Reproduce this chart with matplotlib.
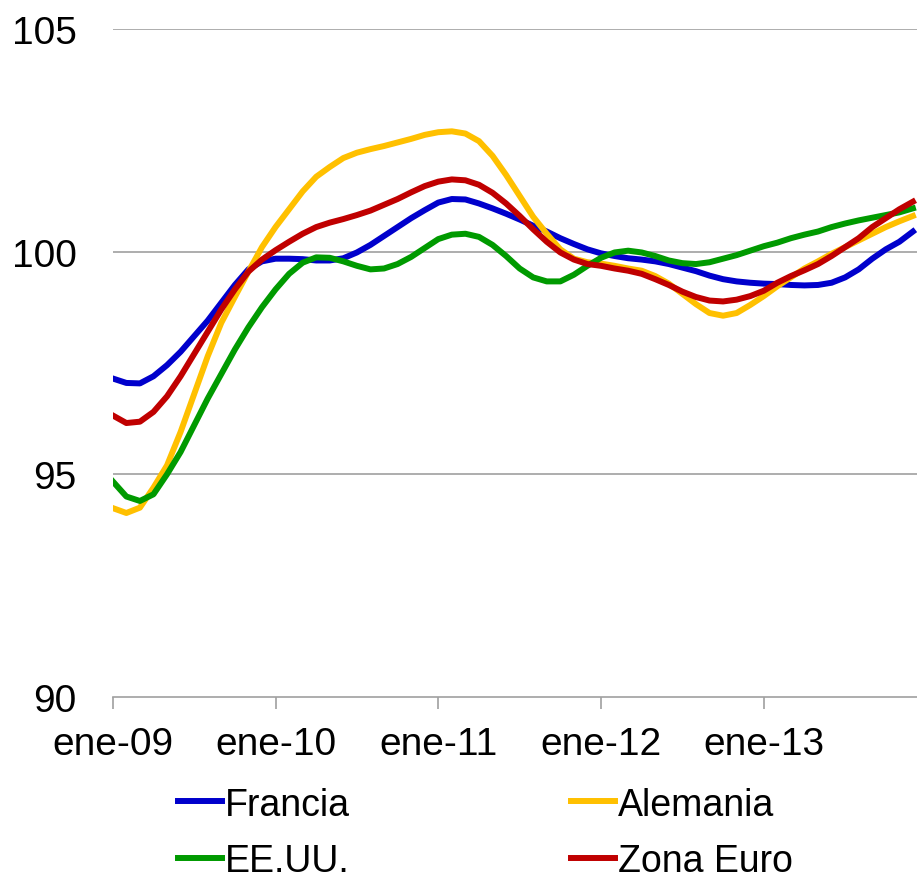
import numpy as np
import matplotlib
matplotlib.use("Agg")
import matplotlib.pyplot as plt

plt.rcParams['font.family'] = ['Liberation Sans', 'DejaVu Sans']

# monthly index, ene-09 .. dic-13
francia = [97.15, 97.05, 97.04, 97.2, 97.45, 97.75, 98.1, 98.45, 98.85, 99.25,
           99.6, 99.78, 99.84, 99.84, 99.83, 99.8, 99.8, 99.85, 99.98, 100.15,
           100.35, 100.55, 100.75, 100.93, 101.1, 101.18, 101.17, 101.08, 100.97, 100.85,
           100.72, 100.58, 100.45, 100.3, 100.17, 100.05, 99.96, 99.9, 99.85, 99.82,
           99.78, 99.72, 99.64, 99.56, 99.46, 99.38, 99.33, 99.3, 99.28, 99.27,
           99.25, 99.24, 99.25, 99.3, 99.42, 99.6, 99.84, 100.05, 100.22, 100.45]

alemania = [94.24, 94.13, 94.25, 94.7, 95.2, 95.95, 96.8, 97.65, 98.4, 98.98,
            99.55, 100.1, 100.55, 100.95, 101.35, 101.68, 101.9, 102.1, 102.22, 102.3,
            102.37, 102.45, 102.53, 102.62, 102.68, 102.7, 102.65, 102.48, 102.15, 101.72,
            101.25, 100.78, 100.4, 100.05, 99.84, 99.76, 99.73, 99.68, 99.62, 99.57,
            99.45, 99.28, 99.05, 98.82, 98.62, 98.56, 98.62, 98.8, 99.0, 99.22,
            99.42, 99.62, 99.78, 99.95, 100.1, 100.25, 100.4, 100.55, 100.68, 100.8]

eeuu = [94.84, 94.5, 94.4, 94.55, 95.0, 95.5, 96.1, 96.7, 97.25, 97.8,
        98.3, 98.75, 99.15, 99.5, 99.75, 99.87, 99.86, 99.78, 99.68, 99.6,
        99.62, 99.72, 99.88, 100.08, 100.28, 100.38, 100.4, 100.33, 100.15, 99.9,
        99.62, 99.42, 99.33, 99.33, 99.48, 99.68, 99.86, 99.98, 100.02, 99.98,
        99.9, 99.8, 99.74, 99.72, 99.76, 99.84, 99.92, 100.02, 100.12, 100.2,
        100.3, 100.38, 100.45, 100.55, 100.63, 100.7, 100.76, 100.82, 100.88, 100.97]

zona_euro = [96.32, 96.15, 96.18, 96.4, 96.75, 97.2, 97.7, 98.2, 98.7, 99.15,
             99.55, 99.82, 100.03, 100.22, 100.4, 100.55, 100.65, 100.73, 100.82, 100.92,
             101.05, 101.18, 101.33, 101.47, 101.57, 101.62, 101.6, 101.5, 101.32, 101.08,
             100.8, 100.5, 100.22, 99.98, 99.82, 99.72, 99.68, 99.62, 99.57, 99.5,
             99.38, 99.25, 99.1, 98.98, 98.9, 98.88, 98.92, 99.0, 99.12, 99.3,
             99.45, 99.58, 99.72, 99.9, 100.1, 100.3, 100.55, 100.75, 100.95, 101.12]

year_labels = ['ene-09', 'ene-10', 'ene-11', 'ene-12', 'ene-13']

months = np.arange(len(francia))

fig = plt.figure(figsize=(9.17, 8.79), dpi=100)
ax = fig.add_axes([0.123, 0.206, 0.877, 0.760])

lw = 4.3
l1, = ax.plot(months, francia, color='#0000CC', lw=lw, label='Francia')
l2, = ax.plot(months, alemania, color='#FFC000', lw=lw, label='Alemania')
l3, = ax.plot(months, eeuu, color='#009A00', lw=lw, label='EE.UU.')
l4, = ax.plot(months, zona_euro, color='#C00000', lw=lw, label='Zona Euro')

ax.set_xlim(0, 59.3)
ax.set_ylim(90, 105)
ax.set_yticks([90, 95, 100, 105])
ax.set_xticks(np.arange(0, 60, 12))
ax.set_xticklabels(year_labels)

# gridlines
for v in [95, 100, 105]:
    ax.axhline(v, color='#A0A0A0', lw=1.2, zorder=0)

for s in ['top', 'right', 'left']:
    ax.spines[s].set_visible(False)
ax.spines['bottom'].set_color('#A0A0A0')
ax.spines['bottom'].set_linewidth(1.2)

ax.tick_params(axis='y', length=0, pad=26, labelsize=28)
ax.tick_params(axis='x', length=8.6, width=1.2, color='#A0A0A0', pad=12, labelsize=28)

fig.legend([l1, l3, l2, l4], ['Francia', 'EE.UU.', 'Alemania', 'Zona Euro'],
           ncol=2, loc='upper left', bbox_to_anchor=(0.194, 0.104),
           frameon=False, fontsize=27, handlelength=1.17, handletextpad=0.08,
           columnspacing=5.9, labelspacing=0.55, borderpad=0, borderaxespad=0)

fig.savefig('out.png', dpi=100)
